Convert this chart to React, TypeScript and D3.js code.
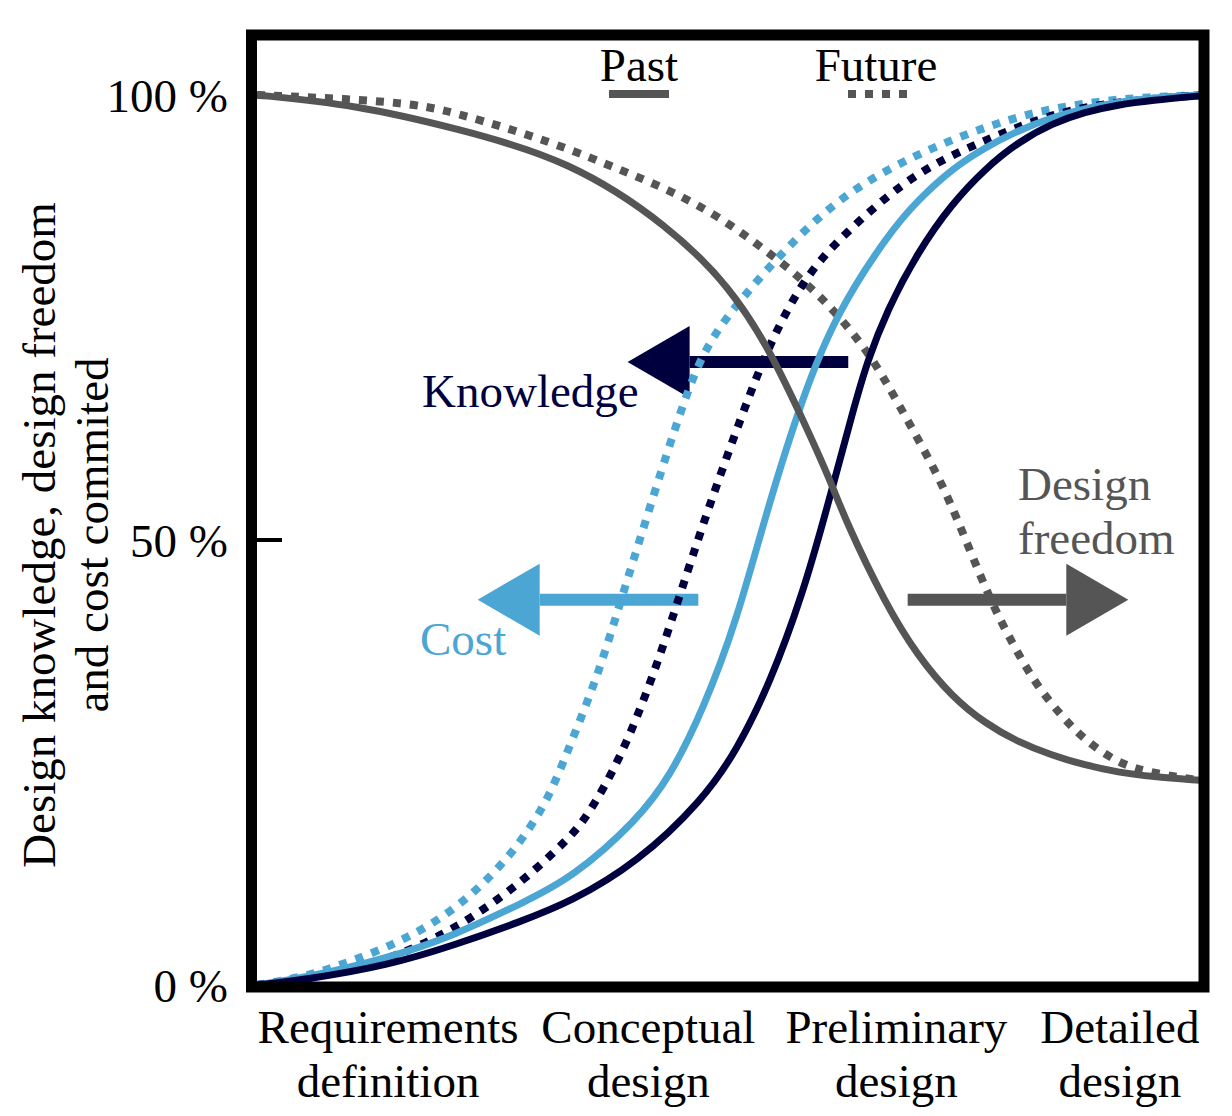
import React from "react";
import * as d3 from "d3";

// x: progress through design phases (0-100), y: percent
const freedomPastX = [0, 10.4, 21.0, 33.2, 43.8, 50.2, 54.4, 57.9, 60.8, 62.4, 66.6, 70.1, 73.7, 77.2, 80.7, 84.3, 87.8, 91.3, 94.9, 100];
const freedomPastY = [100, 98.9, 96.3, 92.7, 85.2, 78.4, 71.3, 63.5, 56.7, 52.2, 42.9, 36.9, 32.4, 29.4, 27.3, 25.8, 24.7, 23.9, 23.4, 23.0];

const freedomFutureX = [0, 15.2, 21.0, 31.6, 38.5, 43.8, 49.1, 54.4, 57.9, 61.5, 65.0, 66.9, 68.7, 71.9, 74.0, 77.7, 80.1, 82.5, 85.4, 87.8, 91.3, 94.9, 100];
const freedomFutureY = [100, 99.3, 98.1, 94.6, 91.6, 89.3, 86.3, 82.2, 79.2, 75.5, 70.8, 67.4, 64.0, 57.9, 53.1, 43.3, 38.4, 33.9, 30.1, 27.5, 24.9, 23.8, 23.0];

const knowledgePastX = [0, 5.1, 13.9, 21.0, 27.9, 33.2, 40.3, 47.3, 50.9, 54.4, 57.9, 60.4, 63.3, 64.7, 66.8, 70.1, 73.7, 77.2, 80.7, 84.3, 87.8, 91.3, 94.9, 100];
const knowledgePastY = [0, 0.6, 2.2, 4.5, 7.1, 9.3, 13.7, 20.8, 26.4, 33.9, 44.0, 53.4, 64.9, 70.0, 75.8, 82.4, 87.8, 91.7, 94.7, 96.8, 98.1, 98.9, 99.4, 99.9];

const knowledgeFutureX = [0, 6.9, 13.9, 21.0, 28.1, 33.2, 35.0, 38.5, 42.0, 44.9, 47.7, 51.5, 54.4, 57.9, 61.5, 67.1, 71.9, 77.2, 82.5, 87.8, 93.1, 100];
const knowledgeFutureY = [0, 0.9, 2.8, 6.2, 11.5, 16.6, 18.9, 25.3, 34.6, 44.0, 53.1, 64.3, 72.2, 79.2, 83.6, 89.0, 92.4, 94.9, 97.2, 98.7, 99.4, 100];

const costPastX = [0, 5.1, 13.9, 21.0, 28.1, 33.4, 40.3, 43.8, 47.3, 50.9, 54.0, 57.9, 61.5, 67.1, 70.1, 73.7, 77.2, 80.7, 84.3, 87.8, 91.3, 94.9, 100];
const costPastY = [0, 0.8, 3.0, 5.6, 9.2, 12.0, 18.5, 23.4, 30.9, 41.0, 53.1, 66.3, 75.6, 84.6, 88.2, 91.7, 94.1, 96.0, 97.5, 98.5, 99.2, 99.7, 100];

const costFutureX = [0, 5.1, 10.4, 15.7, 21.0, 26.3, 29.8, 31.6, 33.4, 36.1, 38.5, 41.4, 45.6, 48.0, 51.5, 56.2, 61.5, 67.1, 71.9, 77.2, 82.5, 87.8, 93.1, 100];
const costFutureY = [0, 0.9, 2.8, 5.1, 8.4, 13.7, 18.9, 22.7, 27.5, 34.6, 42.9, 52.8, 66.9, 72.5, 77.3, 82.9, 88.2, 91.8, 94.2, 96.4, 98.1, 99.1, 99.7, 100];

const phaseLabels = [
  ["Requirements", "definition"],
  ["Conceptual", "design"],
  ["Preliminary", "design"],
  ["Detailed", "design"],
];
const phaseCenters = [13.9, 41.5, 67.8, 91.5];
const yTickValues = [100, 50, 0];
const yTickLabels = ["100 %", "50 %", "0 %"];

const NAVY = "#00003f";
const BLUE = "#4ba6d4";
const GRAY = "#555555";

// annotation arrows (data units): y level, tail x, tip x
const arrowLevels = [70, 43.3, 43.3];
const arrowTails = [62.7, 46.8, 69.0];
const arrowTips = [39.3, 23.4, 92.4];
const arrowColors = [NAVY, BLUE, GRAY];

const FONT = "'Liberation Serif', 'Times New Roman', serif";

export default function App() {
  const x = d3.scaleLinear().domain([0, 100]).range([257, 1200]);
  const y = d3.scaleLinear().domain([0, 100]).range([985, 95]);
  const line = d3
    .line<[number, number]>()
    .x((d) => x(d[0]))
    .y((d) => y(d[1]))
    .curve(d3.curveBasis);
  const zip = (xs: number[], ys: number[]) => xs.map((v, i) => [v, ys[i]] as [number, number]);

  const series = [
    { d: zip(freedomFutureX, freedomFutureY), color: GRAY, dashed: true },
    { d: zip(costFutureX, costFutureY), color: BLUE, dashed: true },
    { d: zip(knowledgeFutureX, knowledgeFutureY), color: NAVY, dashed: true },
    { d: zip(costPastX, costPastY), color: BLUE, dashed: false },
    { d: zip(knowledgePastX, knowledgePastY), color: NAVY, dashed: false },
    { d: zip(freedomPastX, freedomPastY), color: GRAY, dashed: false },
  ];

  const headLen = 62;
  const headHalf = 36;

  return (
    <svg
      width={1232}
      height={1116}
      style={{ position: "absolute", left: 0, top: 0, background: "#fff" }}
      fontFamily={FONT}
    >
      <rect x={0} y={0} width={1232} height={1116} fill="#fff" />
      {/* arrows */}
      {arrowLevels.map((lv, i) => {
        const yy = y(lv);
        const tail = x(arrowTails[i]);
        const tip = x(arrowTips[i]);
        const dir = tip < tail ? -1 : 1;
        const base = tip - dir * headLen;
        return (
          <g key={"a" + i}>
            <line x1={tail} x2={base} y1={yy} y2={yy} stroke={arrowColors[i]} strokeWidth={12} />
            <path
              d={`M${tip},${yy} L${base},${yy - headHalf} L${base},${yy + headHalf} Z`}
              fill={arrowColors[i]}
            />
          </g>
        );
      })}
      {/* curves */}
      {series.map((s, i) => (
        <path
          key={"s" + i}
          d={line(s.d) || ""}
          fill="none"
          stroke={s.color}
          strokeWidth={s.dashed ? 8 : 7}
          strokeDasharray={s.dashed ? "8 9" : undefined}
        />
      ))}
      {/* 50% tick */}
      <line x1={257} x2={282} y1={y(50)} y2={y(50)} stroke="#000" strokeWidth={4} />
      {/* frame */}
      <rect x={251.5} y={35} width={952.5} height={952} fill="none" stroke="#000" strokeWidth={11} />

      {/* legend */}
      <text x={639} y={81} fontSize={47} textAnchor="middle" fill="#000">Past</text>
      <line x1={609} x2={669} y1={94} y2={94} stroke={GRAY} strokeWidth={8} />
      <text x={876} y={81} fontSize={47} textAnchor="middle" fill="#000">Future</text>
      <line x1={848} x2={908} y1={94} y2={94} stroke={GRAY} strokeWidth={8} strokeDasharray="8 9" />

      {/* annotations */}
      <text x={422} y={407} fontSize={47} fill={NAVY}>Knowledge</text>
      <text x={420} y={655} fontSize={47} fill={BLUE}>Cost</text>
      <text x={1018} y={500} fontSize={47} fill={GRAY}>Design</text>
      <text x={1018} y={554} fontSize={47} fill={GRAY}>freedom</text>

      {/* y tick labels */}
      {yTickValues.map((v, i) => (
        <text key={"yt" + i} x={228} y={y(v) + 17} fontSize={47} textAnchor="end" fill="#000">
          {yTickLabels[i]}
        </text>
      ))}

      {/* x labels */}
      {phaseLabels.map((lines, i) => (
        <text key={"xl" + i} x={x(phaseCenters[i])} fontSize={47} textAnchor="middle" fill="#000">
          <tspan x={x(phaseCenters[i])} y={1043}>{lines[0]}</tspan>
          <tspan x={x(phaseCenters[i])} y={1097}>{lines[1]}</tspan>
        </text>
      ))}

      {/* y axis title */}
      <text transform="translate(55,535) rotate(-90)" fontSize={47} textAnchor="middle" fill="#000">
        Design knowledge, design freedom
      </text>
      <text transform="translate(108,535) rotate(-90)" fontSize={47} textAnchor="middle" fill="#000">
        and cost commited
      </text>
    </svg>
  );
}
